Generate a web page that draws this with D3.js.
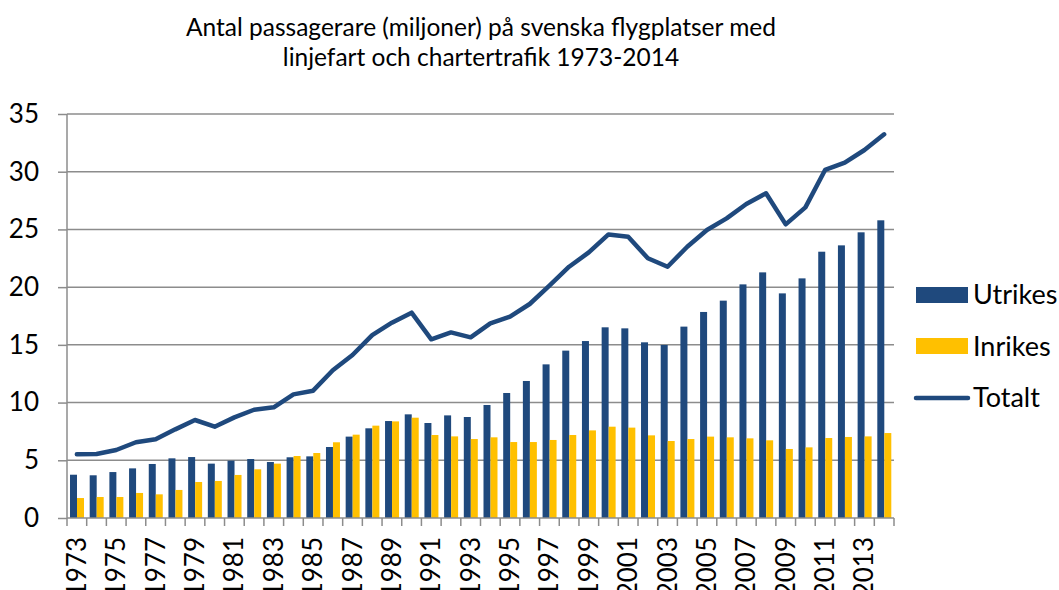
<!DOCTYPE html>
<html><head><meta charset="utf-8">
<script src="https://cdn.jsdelivr.net/npm/d3@7"></script>
<style>body{margin:0;background:#fff}svg{display:block}</style>
</head><body>
<svg id="c" width="1059" height="590"></svg>
<script>
const years = d3.range(1973, 2015);
const utrikes = [3.75,3.70,3.98,4.30,4.68,5.17,5.28,4.71,4.97,5.11,4.85,5.26,5.34,6.15,7.05,
  7.77,8.40,8.98,8.23,8.89,8.75,9.79,10.83,11.87,13.31,14.50,15.33,16.52,16.43,
  15.22,14.99,16.58,17.85,18.83,20.24,21.28,19.46,20.76,23.07,23.62,24.75,25.79];
const inrikes = [1.73,1.82,1.82,2.17,2.05,2.43,3.12,3.21,3.73,4.22,4.71,5.37,5.63,6.56,7.22,
  8.00,8.37,8.69,7.19,7.07,6.84,6.99,6.58,6.58,6.76,7.19,7.59,7.91,7.83,
  7.16,6.67,6.84,7.05,6.99,6.90,6.73,5.98,6.12,6.93,7.02,7.07,7.36];
const totalt = [5.52,5.54,5.89,6.56,6.82,7.68,8.49,7.91,8.72,9.38,9.59,10.71,11.03,12.8,14.12,
  15.85,16.92,17.79,15.48,16.08,15.65,16.86,17.44,18.54,20.13,21.77,23.01,24.57,24.37,
  22.5,21.77,23.5,24.95,25.96,27.2,28.13,25.44,26.91,30.15,30.78,31.88,33.24];
const yTicks = [0,5,10,15,20,25,30,35];
const xLabels = years.filter((y,i)=>i%2===0);
const seriesNames = ["Utrikes","Inrikes","Totalt"];
const titleLines = ["Antal passagerare (miljoner) på svenska flygplatser med","linjefart och chartertrafik 1973-2014"];

const navy = "#1F497D", gold = "#FFC000", grid = "#8c8c8c";
const font = "Lato, 'Open Sans', sans-serif";
const svg = d3.select("#c");
const L = 67, R = 894, T = 114, B = 518;

const x = d3.scaleBand().domain(years).range([L, R]).paddingInner(0).paddingOuter(0);
const y = d3.scaleLinear().domain([0, 35]).range([B, T]);
const inner = d3.scaleBand().domain(["u","i"]).range([3, x.bandwidth()-2.7]);

// gridlines
svg.append("g").selectAll("line").data(yTicks.filter(d=>d>0)).join("line")
  .attr("x1", L).attr("x2", R).attr("y1", d=>y(d)).attr("y2", d=>y(d))
  .attr("stroke", grid).attr("stroke-width", 1.5);

// y axis
const ya = svg.append("g").attr("transform", `translate(${L},0)`)
  .call(d3.axisLeft(y).tickValues(yTicks).tickSize(9).tickPadding(19));
ya.select(".domain").attr("stroke", grid).attr("stroke-width", 1.5).attr("d", `M0,${T}V${B}`);
ya.selectAll(".tick line").attr("stroke", grid).attr("stroke-width", 1.5);
ya.selectAll(".tick text").attr("font-family", font).attr("font-size", 26).attr("fill", "#000");

// bars
const g = svg.append("g");
g.selectAll(".u").data(years).join("rect")
  .attr("x", (d)=>x(d)+inner("u")).attr("width", inner.bandwidth())
  .attr("y", (d,i)=>y(utrikes[i])).attr("height", (d,i)=>B - y(utrikes[i])).attr("fill", navy);
g.selectAll(".i").data(years).join("rect")
  .attr("x", (d)=>x(d)+inner("i")).attr("width", inner.bandwidth())
  .attr("y", (d,i)=>y(inrikes[i])).attr("height", (d,i)=>B - y(inrikes[i])).attr("fill", gold);

// x axis
const xa = svg.append("g").attr("transform", `translate(0,${B})`);
xa.append("line").attr("x1", L).attr("x2", R).attr("stroke", grid).attr("stroke-width", 1.5);
xa.selectAll(".tk").data(d3.range(years.length+1)).join("line")
  .attr("x1", i=>L + i*x.step()).attr("x2", i=>L + i*x.step()).attr("y1", 0).attr("y2", 8)
  .attr("stroke", grid).attr("stroke-width", 1.5);
xa.selectAll("text").data(xLabels).join("text")
  .attr("transform", d=>`translate(${x(d)+x.bandwidth()/2+9},${19}) rotate(-90)`)
  .attr("text-anchor", "end").attr("font-family", font).attr("font-size", 26).attr("fill", "#000")
  .text(d=>d);

// total line
svg.append("path").datum(totalt)
  .attr("d", d3.line().x((d,i)=>x(years[i])+x.bandwidth()/2).y(d=>y(d)))
  .attr("fill", "none").attr("stroke", navy).attr("stroke-width", 4.5).attr("stroke-linejoin", "round").attr("stroke-linecap","round");

// title
svg.append("text").attr("x", 481).attr("y", 36).attr("text-anchor", "middle")
  .attr("font-family", font).attr("font-size", 24.5).attr("fill", "#000")
  .selectAll("tspan").data(titleLines).join("tspan").attr("x", 481).attr("dy", (d,i)=>i?30:0).text(d=>d);

// legend
const lg = svg.append("g");
lg.append("rect").attr("x", 916).attr("y", 287).attr("width", 52).attr("height", 16).attr("fill", navy);
lg.append("rect").attr("x", 916).attr("y", 338).attr("width", 52).attr("height", 16).attr("fill", gold);
lg.append("line").attr("x1", 916).attr("x2", 968).attr("y1", 398).attr("y2", 398)
  .attr("stroke", navy).attr("stroke-width", 4.5).attr("stroke-linecap", "round");
lg.selectAll("text").data(seriesNames).join("text")
  .attr("x", 973).attr("y", (d,i)=>304 + i*51.5).attr("font-family", font).attr("font-size", 27).attr("fill", "#000")
  .text(d=>d);
</script>
</body></html>
